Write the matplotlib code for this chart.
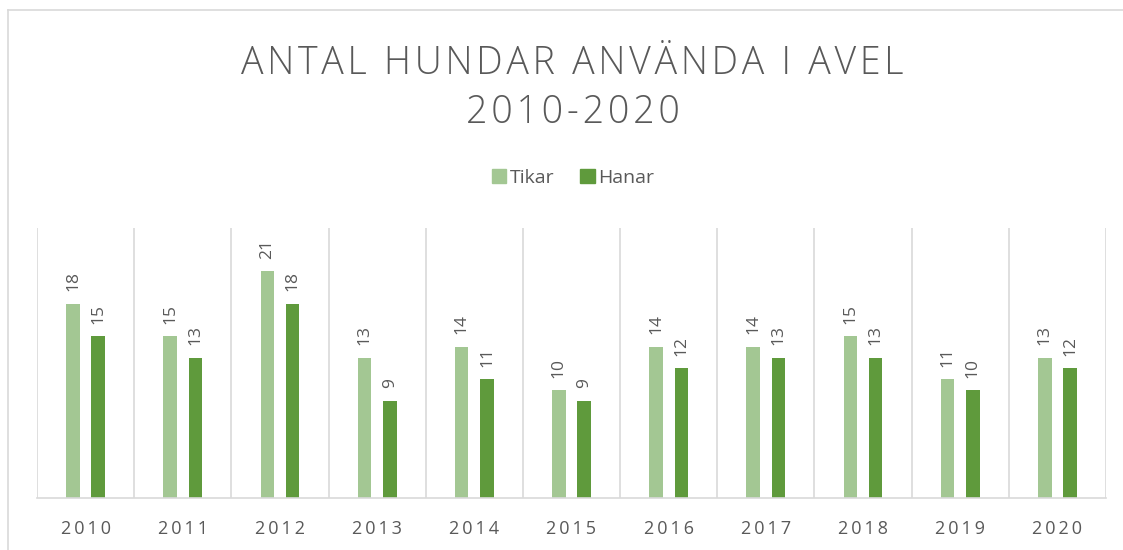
import matplotlib
matplotlib.use("Agg")
import matplotlib.pyplot as plt
from matplotlib.lines import Line2D
from matplotlib.patches import Patch
import numpy as np

years = ["2010", "2011", "2012", "2013", "2014", "2015", "2016", "2017", "2018", "2019", "2020"]
tikar = [18, 15, 21, 13, 14, 10, 14, 14, 15, 11, 13]
hanar = [15, 13, 18, 9, 11, 9, 12, 13, 13, 10, 12]
series_names = ["Tikar", "Hanar"]
colors = ["#A3C793", "#5F9A3C"]
title_lines = ["ANTAL HUNDAR ANVÄNDA I AVEL", "2010-2020"]

HAIR = "\u200a"
THIN = "\u2009"

def spaced(s, sep):
    return sep.join(list(s))

plt.rcParams['font.family'] = ['Open Sans', 'DejaVu Sans']
fig = plt.figure(figsize=(11.23, 5.5), dpi=100)
ax = fig.add_axes([37/1123, 1-498/550, (1106-37)/1123, (498-228)/550])

x = np.arange(len(years))
w = 0.14
off = 0.13
b1 = ax.bar(x - off, tikar, w, color=colors[0], zorder=2)
b2 = ax.bar(x + off, hanar, w, color=colors[1], zorder=2)
for bars, vals in ((b1, tikar), (b2, hanar)):
    for r, v in zip(bars, vals):
        ax.annotate(str(v), (r.get_x() + r.get_width()/2, v), xytext=(0, 9),
                    textcoords="offset points", rotation=90, ha="center", va="bottom",
                    fontsize=12.5, color="#595959")

ax.set_xlim(-0.5, len(years) - 0.5)
ax.set_ylim(0, 25)
for b in np.arange(-0.5, len(years), 1.0):
    ax.axvline(b, color="#D9D9D9", lw=1.2, zorder=1)
for s in ["top", "left", "right"]:
    ax.spines[s].set_visible(False)
ax.spines["bottom"].set_color("#D9D9D9")
ax.spines["bottom"].set_linewidth(1.2)
ax.set_yticks([])
ax.set_xticks(x)
ax.set_xticklabels([spaced(y, THIN) for y in years], fontsize=13, color="#595959")
ax.tick_params(axis="x", length=0, pad=16)

fig.text(0.51, 1-88/550, "\n".join(spaced(t, HAIR) for t in title_lines), ha="center", va="center",
         fontsize=27, color="#595959", fontweight="light", linespacing=1.35)

handles = [Patch(color=c, label=n) for c, n in zip(colors, series_names)]
fig.legend(handles=handles, loc="center", bbox_to_anchor=(573/1123, 1-178/550), ncol=2,
           frameon=False, fontsize=14, handlelength=0.75, handleheight=0.75,
           handletextpad=0.2, columnspacing=1.3, labelcolor="#595959")

fig.add_artist(Line2D([8/1123, 8/1123], [0, 1-10/550], color="#D9D9D9", lw=1.2, transform=fig.transFigure))
fig.add_artist(Line2D([8/1123, 1], [1-10/550, 1-10/550], color="#D9D9D9", lw=1.2, transform=fig.transFigure))

fig.savefig("out.png", dpi=100)
